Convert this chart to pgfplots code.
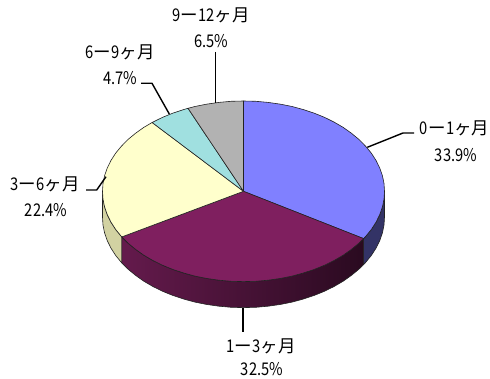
\documentclass[border=0pt]{standalone}
\usepackage{pgfplots}
\usepackage{fontspec}
\pgfplotsset{compat=1.18}
\setmainfont[FakeStretch=0.84]{Noto Sans CJK JP}
\newfontfamily\cjk{Noto Sans CJK JP}
\definecolor{edge}{HTML}{222222}
\definecolor{slblue}{HTML}{8080FF}
\definecolor{slblueside}{HTML}{333366}
\definecolor{slplum}{HTML}{7F1F5F}
\definecolor{slplumL}{HTML}{641A4C}
\definecolor{slplumR}{HTML}{2A0A20}
\definecolor{slyellow}{HTML}{FFFFCC}
\definecolor{slyellowside}{HTML}{D2D2A2}
\definecolor{slcyan}{HTML}{A0E0E0}
\definecolor{slgray}{HTML}{B2B2B2}
\tikzset{
    lab/.style={font=\fontsize{17.5}{17.5}\selectfont, inner sep=0pt, anchor=center},
    wall/.style={draw=edge, line width=0.6pt, line join=round},
    lead/.style={draw=black, line width=1.4pt, line join=miter},
}
\newcommand{\range}[2]{#1\kern0.5pt{\cjk ー}\kern0.5pt#2{\cjk ヶ月}}
\begin{document}
\begin{tikzpicture}
\useasboundingbox (0,0) rectangle (490pt,379pt);
\begin{axis}[
    scale only axis, width=490pt, height=379pt,
    xmin=0, xmax=490, ymin=0, ymax=379, y dir=reverse,
    hide axis, clip=false,
]
% side walls
\addplot[wall, fill=slblueside] coordinates {
    (384.5,191.3) (384.0,199.2) (382.4,207.0) (379.7,214.7) (376.0,222.2) (371.3,229.5) (365.6,236.5) (363.6,238.6)
    (363.6,264.6) (365.6,262.5) (371.3,255.5) (376.0,248.2) (379.7,240.7) (382.4,233.0) (384.0,225.2) (384.5,217.3)
} --cycle;
\addplot[wall, fill=slyellowside] coordinates {
    (102.5,191.3) (103.0,199.2) (104.6,207.0) (107.3,214.7) (111.0,222.2) (115.7,229.5) (121.4,236.5) (121.8,236.9)
    (121.8,262.9) (121.4,262.5) (115.7,255.5) (111.0,248.2) (107.3,240.7) (104.6,233.0) (103.0,225.2) (102.5,217.3)
} --cycle;
\addplot[wall, left color=slplumL, right color=slplumR] coordinates {
    (363.6,238.6) (359.0,243.1) (351.5,249.3) (343.2,255.2) (334.1,260.5) (324.4,265.3) (314.0,269.5) (303.1,273.1)
    (291.7,276.2) (280.0,278.5) (268.0,280.2) (255.8,281.3) (243.5,281.6) (231.2,281.3) (219.0,280.2) (207.0,278.5)
    (195.3,276.2) (183.9,273.1) (173.0,269.5) (162.6,265.3) (152.9,260.5) (143.8,255.2) (135.5,249.3) (128.0,243.1) (121.8,236.9)
    (121.8,262.9) (128.0,269.1) (135.5,275.3) (143.8,281.2) (152.9,286.5) (162.6,291.3) (173.0,295.5) (183.9,299.1)
    (195.3,302.2) (207.0,304.5) (219.0,306.2) (231.2,307.3) (243.5,307.6) (255.8,307.3) (268.0,306.2) (280.0,304.5)
    (291.7,302.2) (303.1,299.1) (314.0,295.5) (324.4,291.3) (334.1,286.5) (343.2,281.2) (351.5,275.3) (359.0,269.1) (363.6,264.6)
} --cycle;
% top faces
\addplot[wall, fill=slblue] coordinates {
    (243.5,191.3) (243.5,101.0) (255.8,101.3) (268.0,102.4) (280.0,104.1) (291.7,106.4) (303.1,109.5) (314.0,113.1)
    (324.4,117.3) (334.1,122.1) (343.2,127.4) (351.5,133.3) (359.0,139.5) (365.6,146.2) (371.3,153.1) (376.0,160.4)
    (379.7,167.9) (382.4,175.6) (384.0,183.4) (384.5,191.3) (384.0,199.2) (382.4,207.0) (379.7,214.7) (376.0,222.2)
    (371.3,229.5) (365.6,236.5) (363.6,238.6)
} --cycle;
\addplot[wall, fill=slplum] coordinates {
    (243.5,191.3) (363.6,238.6) (359.0,243.1) (351.5,249.3) (343.2,255.2) (334.1,260.5) (324.4,265.3) (314.0,269.5)
    (303.1,273.1) (291.7,276.2) (280.0,278.5) (268.0,280.2) (255.8,281.3) (243.5,281.6) (231.2,281.3) (219.0,280.2)
    (207.0,278.5) (195.3,276.2) (183.9,273.1) (173.0,269.5) (162.6,265.3) (152.9,260.5) (143.8,255.2) (135.5,249.3)
    (128.0,243.1) (121.8,236.9)
} --cycle;
\addplot[wall, fill=slyellow] coordinates {
    (243.5,191.3) (121.8,236.9) (121.4,236.5) (115.7,229.5) (111.0,222.2) (107.3,214.7) (104.6,207.0) (103.0,199.2)
    (102.5,191.3) (103.0,183.4) (104.6,175.6) (107.3,167.9) (111.0,160.4) (115.7,153.1) (121.4,146.2) (128.0,139.5)
    (135.5,133.3) (143.8,127.4) (152.1,122.5)
} --cycle;
\addplot[wall, fill=slcyan] coordinates {
    (243.5,191.3) (152.1,122.5) (152.9,122.1) (162.6,117.3) (173.0,113.1) (183.9,109.5) (188.0,108.3)
} --cycle;
\addplot[wall, fill=slgray] coordinates {
    (243.5,191.3) (188.0,108.3) (195.3,106.4) (207.0,104.1) (219.0,102.4) (231.2,101.3) (243.5,101.0)
} --cycle;
% leader lines
\addplot[lead] coordinates {(215.5,52) (215.5,102.6)};
\addplot[lead] coordinates {(141,83.3) (152,83.3) (169.3,114)};
\addplot[lead] coordinates {(414,133) (403,133) (367.3,147.3)};
\addplot[lead] coordinates {(243,308) (243,332)};
\addplot[lead] coordinates {(86,190) (96.7,190) (106,176.7)};
% labels
\node[lab] at (axis cs:211,15) {\range{9}{12}};
\node[lab] at (axis cs:211,41) {6.5\%};
\node[lab] at (axis cs:120,52) {\range{6}{9}};
\node[lab] at (axis cs:120.5,78) {4.7\%};
\node[lab] at (axis cs:454.5,128.5) {\range{0}{1}};
\node[lab] at (axis cs:456,155) {33.9\%};
\node[lab] at (axis cs:261,346) {\range{1}{3}};
\node[lab] at (axis cs:262,369) {32.5\%};
\node[lab] at (axis cs:45,184) {\range{3}{6}};
\node[lab] at (axis cs:46,210) {22.4\%};
\end{axis}
\end{tikzpicture}
\end{document}
